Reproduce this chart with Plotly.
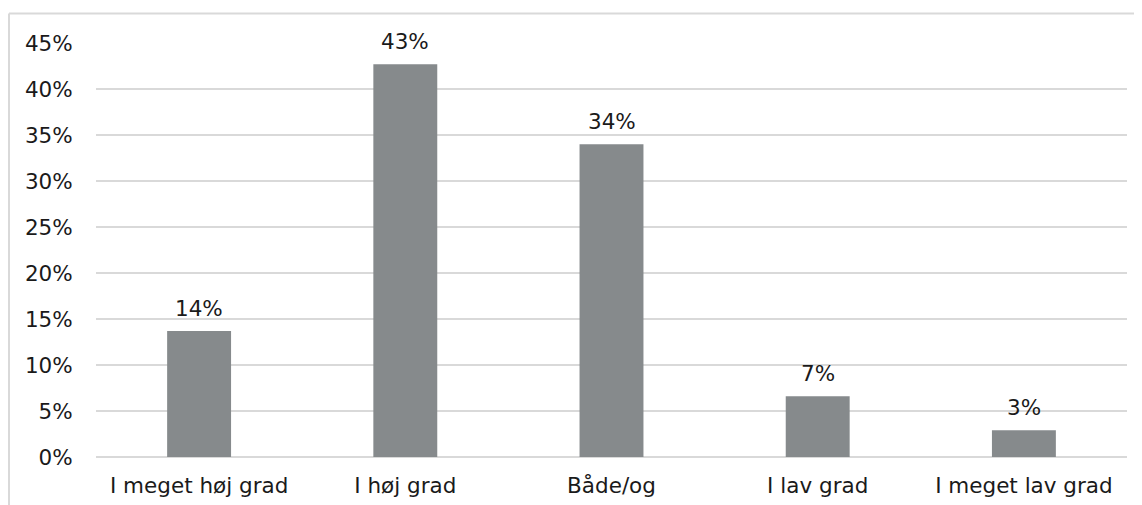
import plotly.graph_objects as go

categories = ["I meget høj grad", "I høj grad", "Både/og", "I lav grad", "I meget lav grad"]
values = [13.7, 42.7, 34.0, 6.6, 2.9]
labels = [f"{round(v)}%" for v in values]
ytick_vals = [0, 5, 10, 15, 20, 25, 30, 35, 40, 45]
ytick_text = [f"{v}%" for v in ytick_vals]

FONT = "DejaVu Sans"
BAR = "#868A8C"
GRID = "#D9D9D9"
TXT = "#1a1a1a"
FS = 21.5

fig = go.Figure()
fig.add_trace(go.Bar(x=categories, y=values, marker=dict(color=BAR, line=dict(width=0)),
                     width=0.31, hoverinfo="skip"))

for c, v, t in zip(categories, values, labels):
    fig.add_annotation(x=c, y=v, text=t, showarrow=False, yanchor="bottom", yshift=8,
                       font=dict(family=FONT, size=FS, color=TXT))

# page has an 8px body margin; figure coordinates are page coordinates minus 8
W, H = 1142, 505
L, R, T, B = 88, 23, 35, 56
pw, ph = W - L - R, H - T - B
bx = (1 - L) / pw
by = 1 + (T - 5.5) / ph
fig.add_shape(type="line", xref="paper", yref="paper", x0=bx, x1=bx, y0=-0.5, y1=by,
              line=dict(color=GRID, width=2))
fig.add_shape(type="line", xref="paper", yref="paper", x0=bx, x1=1.2, y0=by, y1=by,
              line=dict(color=GRID, width=2))

fig.update_layout(
    width=W, height=H,
    margin=dict(l=L, r=R, t=T, b=B),
    paper_bgcolor="white", plot_bgcolor="white",
    showlegend=False,
    font=dict(family=FONT, size=FS, color=TXT),
    xaxis=dict(showgrid=False, showline=False, ticks="outside", ticklen=9,
               tickcolor="rgba(0,0,0,0)", tickfont=dict(family=FONT, size=FS, color=TXT),
               fixedrange=True),
    yaxis=dict(range=[0, 45], tickvals=ytick_vals, ticktext=ytick_text,
               showgrid=True, gridcolor=GRID, gridwidth=1.5, zeroline=True,
               zerolinecolor=GRID, zerolinewidth=1.5, showline=False,
               ticks="outside", ticklen=18, tickcolor="rgba(0,0,0,0)",
               tickfont=dict(family=FONT, size=FS, color=TXT), fixedrange=True),
)

fig.write_html("out.html", config={"displayModeBar": False})
